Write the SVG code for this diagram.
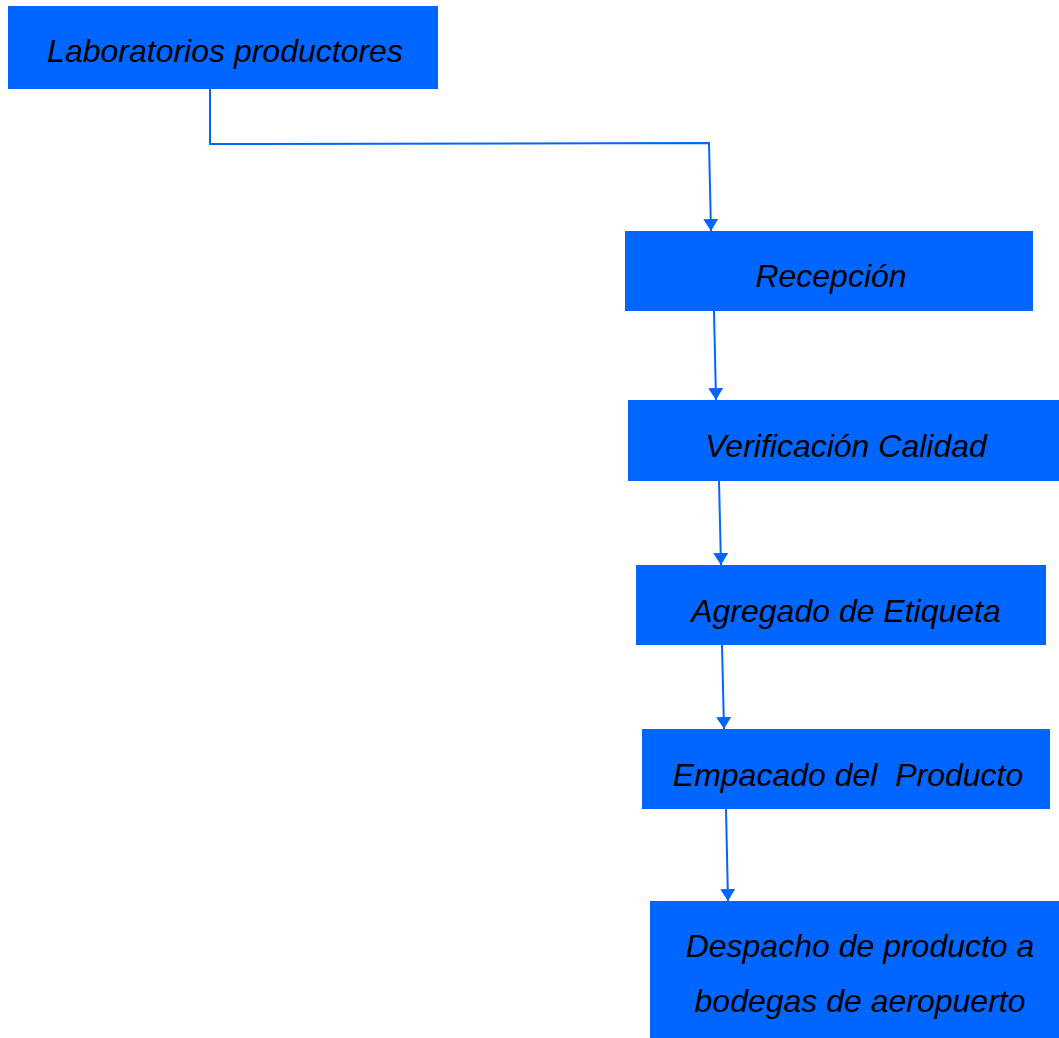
<svg xmlns="http://www.w3.org/2000/svg" width="1059" height="1038" viewBox="0 0 1059 1038">
<style>
.box{fill:#0066FF;}
.lbl{font-family:"Liberation Sans",Arial,sans-serif;font-style:italic;font-size:32px;fill:#000;text-anchor:middle;}
.con{stroke:#0066FF;stroke-width:2;fill:none;}
</style>
<defs>
<marker id="ah" viewBox="0 0 12 15" refX="12" refY="7.5" markerWidth="12" markerHeight="15" markerUnits="userSpaceOnUse" orient="auto">
<path d="M0,0 L12,7.5 L0,15 Z" fill="#0066FF"/>
</marker>
</defs>
<rect width="1059" height="1038" fill="#fff"/>
<g id="connectors">
<path class="con" d="M210,89 L210,144 L709,143 L711,231" marker-end="url(#ah)"/>
<path class="con" d="M714,311 L716,400" marker-end="url(#ah)"/>
<path class="con" d="M719,481 L721,565" marker-end="url(#ah)"/>
<path class="con" d="M722,645 L724,729" marker-end="url(#ah)"/>
<path class="con" d="M726,809 L728,901" marker-end="url(#ah)"/>
</g>
<g id="n1"><rect class="box" x="8" y="6" width="430" height="83"/><text class="lbl" x="225" y="62">Laboratorios productores</text></g>
<g id="n2"><rect class="box" x="625" y="231" width="408" height="80"/><text class="lbl" x="831" y="287">Recepción</text></g>
<g id="n3"><rect class="box" x="628" y="400" width="431" height="81"/><text class="lbl" x="846" y="457">Verificación Calidad</text></g>
<g id="n4"><rect class="box" x="636" y="565" width="410" height="80"/><text class="lbl" x="846" y="622">Agregado de Etiqueta</text></g>
<g id="n5"><rect class="box" x="642" y="729" width="408" height="80"/><text class="lbl" x="848" y="786" xml:space="preserve">Empacado del  Producto</text></g>
<g id="n6"><rect class="box" x="650" y="901" width="409" height="137"/><text class="lbl" x="860" y="957">Despacho de producto a</text><text class="lbl" x="860" y="1012">bodegas de aeropuerto</text></g>
</svg>
